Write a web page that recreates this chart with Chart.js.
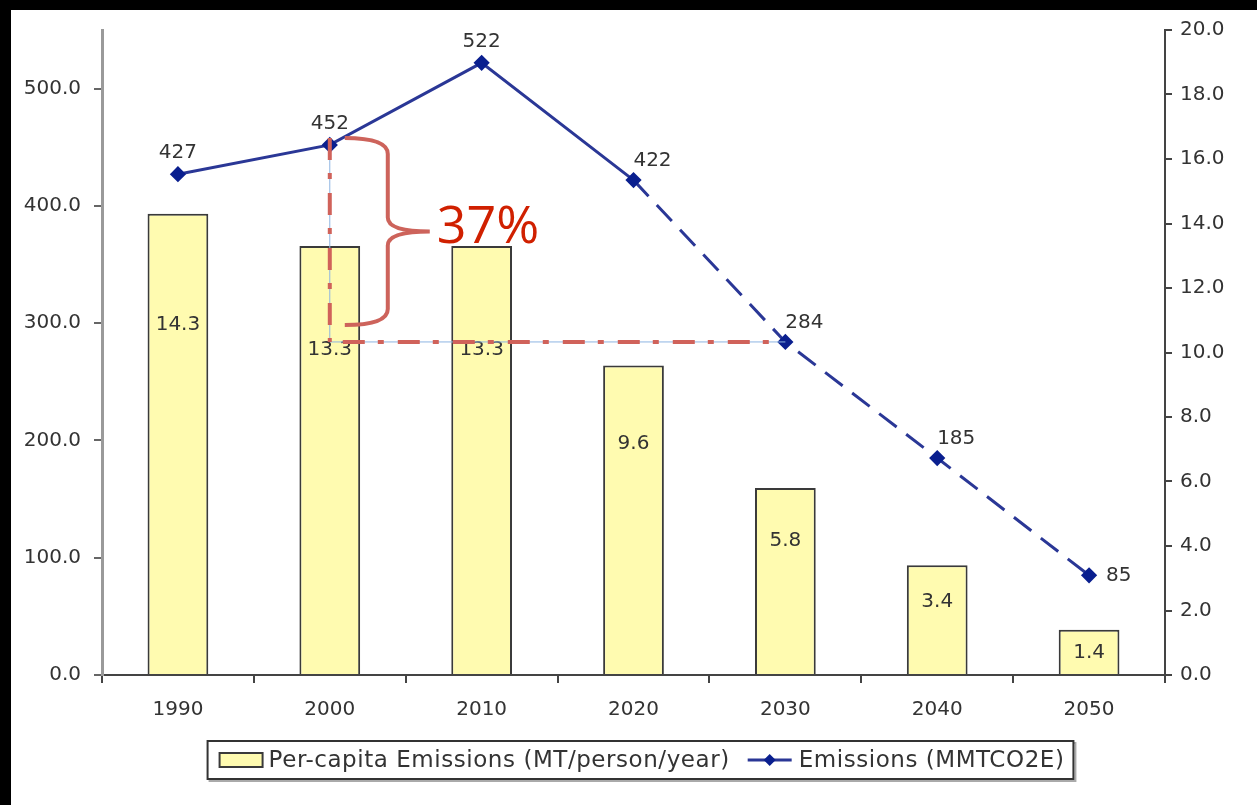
<!DOCTYPE html>
<html>
<head>
<meta charset="utf-8">
<title>Emisiones</title>
<script src="https://cdn.jsdelivr.net/npm/chart.js@4.4.1/dist/chart.umd.min.js"></script>
<style>
  html, body { margin: 0; padding: 0; background: #000; width: 1257px; height: 805px; overflow: hidden; }
  #marco { position: absolute; left: 11px; top: 10px; width: 1246px; height: 795px; background: #fff; }
</style>
</head>
<body>
<div id="marco"><canvas id="graficoEmisiones" width="1246" height="795"></canvas></div>
<script>
// Datos
const ANIOS = ['1990', '2000', '2010', '2020', '2030', '2040', '2050'];
const PER_CAPITA = [14.3, 13.3, 13.3, 9.6, 5.8, 3.4, 1.4];      // MT/persona/año (eje derecho)
const EMISIONES = [427, 452, 522, 422, 284, 185, 85];            // MMTCO2E (eje izquierdo)
const TICKS_IZQ = [0, 100, 200, 300, 400, 500];
const TICKS_DER = [0, 2, 4, 6, 8, 10, 12, 14, 16, 18, 20];
const ETIQUETA_BARRAS = 'Per-capita Emissions (MT/person/year)';
const ETIQUETA_LINEA = 'Emissions (MMTCO2E)';
const INICIO_PROYECCION = 3;   // desde 2020 la línea va punteada
const REF_ALTA = 1;            // 2000
const REF_BAJA = 4;            // 2030

const FUENTE = 'DejaVu Sans';
const GRIS_TEXTO = '#333';

// Valores sobre barras y puntos
const etiquetasValores = {
  id: 'etiquetasValores',
  afterDatasetsDraw(chart) {
    const ctx = chart.ctx;
    ctx.save();
    ctx.font = `20px "${FUENTE}"`;
    ctx.fillStyle = GRIS_TEXTO;
    ctx.textBaseline = 'middle';

    chart.getDatasetMeta(0).data.forEach((bar, i) => {
      const h = bar.base - bar.y;
      ctx.textAlign = 'center';
      ctx.fillText(PER_CAPITA[i].toFixed(1), bar.x, bar.y + 14 + 0.21 * h);
    });

    const puntos = chart.getDatasetMeta(1).data;
    puntos.forEach((p, i) => {
      const txt = String(EMISIONES[i]);
      if (i === puntos.length - 1) {
        ctx.textAlign = 'left';
        ctx.fillText(txt, p.x + 17, p.y);
      } else if (i > 0 && EMISIONES[i - 1] > EMISIONES[i]) {
        ctx.textAlign = 'center';
        ctx.fillText(txt, p.x + 19, p.y - 19);
      } else {
        ctx.textAlign = 'center';
        ctx.fillText(txt, p.x, p.y - 21);
      }
    });
    ctx.restore();
  }
};

// Guías rojas, llave y porcentaje de reducción 2000 -> 2030
const anotacionReduccion = {
  id: 'anotacionReduccion',
  afterDatasetsDraw(chart) {
    const { ctx, scales: { x, y } } = chart;
    const xa = x.getPixelForValue(REF_ALTA);
    const xb = x.getPixelForValue(REF_BAJA);
    const ya = y.getPixelForValue(EMISIONES[REF_ALTA]);
    const yb = y.getPixelForValue(EMISIONES[REF_BAJA]);
    ctx.save();

    ctx.strokeStyle = '#8db4e2';
    ctx.lineWidth = 1;
    ctx.beginPath();
    ctx.moveTo(xa, ya);
    ctx.lineTo(xa, yb);
    ctx.lineTo(xb, yb);
    ctx.stroke();

    ctx.strokeStyle = '#d0625a';
    ctx.lineWidth = 4;
    ctx.setLineDash([22, 13, 6, 14]);
    ctx.beginPath();
    ctx.moveTo(xa, ya - 7);
    ctx.lineTo(xa, yb);
    ctx.stroke();
    ctx.beginPath();
    ctx.moveTo(xa + 13, yb);
    ctx.lineTo(xb - 5, yb);
    ctx.stroke();

    // llave
    ctx.setLineDash([]);
    ctx.strokeStyle = '#cd635b';
    const arriba = ya - 7, abajo = yb - 17, medio = (arriba + abajo) / 2;
    const x0 = xa + 15, xv = xa + 58, xp = xa + 100;
    ctx.beginPath();
    ctx.moveTo(x0, arriba);
    ctx.quadraticCurveTo(xv, arriba, xv, arriba + 16);
    ctx.lineTo(xv, medio - 14);
    ctx.quadraticCurveTo(xv, medio, xp, medio);
    ctx.quadraticCurveTo(xv, medio, xv, medio + 14);
    ctx.lineTo(xv, abajo - 16);
    ctx.quadraticCurveTo(xv, abajo, x0, abajo);
    ctx.stroke();

    const pct = Math.round((EMISIONES[REF_ALTA] - EMISIONES[REF_BAJA]) / EMISIONES[REF_ALTA] * 100);
    ctx.fillStyle = '#d02000';
    ctx.font = '52px "Open Sans"';
    ctx.textAlign = 'left';
    ctx.textBaseline = 'alphabetic';
    ctx.fillText(pct + '%', xp + 7, medio + 12);
    ctx.restore();
  }
};

// Leyenda con caja
const leyendaCaja = {
  id: 'leyendaCaja',
  afterDraw(chart) {
    const ctx = chart.ctx;
    const area = chart.chartArea;
    ctx.save();
    ctx.font = `23px "${FUENTE}"`;
    ctx.letterSpacing = '0.55px';
    const w1 = ctx.measureText(ETIQUETA_BARRAS).width;
    const w2 = ctx.measureText(ETIQUETA_LINEA).width;
    const ancho = 139 + w1 + w2, alto = 38;
    const bx = (area.left + area.right) / 2 + 7 - ancho / 2;
    const by = area.bottom + 66;
    const cy = by + alto / 2;

    ctx.fillStyle = '#fff';
    ctx.strokeStyle = '#aaa';
    ctx.lineWidth = 2;
    ctx.strokeRect(bx + 2, by + 2, ancho, alto);
    ctx.fillRect(bx, by, ancho, alto);
    ctx.strokeStyle = '#333';
    ctx.strokeRect(bx, by, ancho, alto);

    let cx = bx + 12;
    ctx.fillStyle = '#fffbb0';
    ctx.fillRect(cx, cy - 7, 43, 14);
    ctx.strokeStyle = '#3a3a3a';
    ctx.strokeRect(cx, cy - 7, 43, 14);
    cx += 49;
    ctx.fillStyle = GRIS_TEXTO;
    ctx.textBaseline = 'middle';
    ctx.textAlign = 'left';
    ctx.fillText(ETIQUETA_BARRAS, cx, cy + 1);
    cx += w1 + 18;

    ctx.strokeStyle = '#2a3796';
    ctx.lineWidth = 3;
    ctx.beginPath();
    ctx.moveTo(cx, cy);
    ctx.lineTo(cx + 44, cy);
    ctx.stroke();
    ctx.fillStyle = '#0a1f8f';
    ctx.beginPath();
    ctx.moveTo(cx + 22, cy - 6);
    ctx.lineTo(cx + 28, cy);
    ctx.lineTo(cx + 22, cy + 6);
    ctx.lineTo(cx + 16, cy);
    ctx.closePath();
    ctx.fill();
    cx += 51;
    ctx.fillStyle = GRIS_TEXTO;
    ctx.fillText(ETIQUETA_LINEA, cx, cy + 1);
    ctx.restore();
  }
};

const fuenteEjes = { family: FUENTE, size: 20 };

// los ejes verticales no reservan margen extra para medio rótulo
function sinMargenVertical(s) {
  s.paddingTop = 0;
  s.paddingBottom = 0;
}

const ctx = document.getElementById('graficoEmisiones').getContext('2d');
const chartEmisiones = new Chart(ctx, {
  type: 'bar',
  data: {
    labels: ANIOS,
    datasets: [{
      type: 'bar',
      label: ETIQUETA_BARRAS,
      data: PER_CAPITA,
      yAxisID: 'y1',
      order: 1,
      backgroundColor: '#fffbb0',
      borderColor: '#3a3a3a',
      borderWidth: 2,
      categoryPercentage: 1,
      barPercentage: 0.4
    }, {
      type: 'line',
      label: ETIQUETA_LINEA,
      data: EMISIONES,
      yAxisID: 'y',
      order: 0,
      borderColor: '#2a3796',
      borderWidth: 3,
      tension: 0,
      pointStyle: 'rectRot',
      pointRadius: 6,
      pointBackgroundColor: '#0a1f8f',
      pointBorderColor: '#0a1f8f',
      segment: {
        borderDash: c => c.p0DataIndex >= INICIO_PROYECCION ? [22, 12] : undefined
      }
    }]
  },
  options: {
    responsive: false,
    animation: false,
    layout: { padding: { top: 20, left: 0, right: 0, bottom: 0 } },
    plugins: {
      legend: { display: false },
      tooltip: { enabled: false }
    },
    scales: {
      x: {
        grid: { offset: true, drawOnChartArea: false, tickLength: 8, color: '#444', lineWidth: 2 },
        border: { color: '#444', width: 2 },
        ticks: { font: fuenteEjes, color: GRIS_TEXTO, padding: 15 },
        afterFit(s) { s.height = 130; s.paddingLeft = 0; s.paddingRight = 0; }
      },
      y: {
        position: 'left',
        min: 0,
        max: 550,
        afterBuildTicks(s) { s.ticks = TICKS_IZQ.map(v => ({ value: v })); },
        ticks: { font: fuenteEjes, color: GRIS_TEXTO, padding: 13, callback: v => Number(v).toFixed(1) },
        grid: { drawOnChartArea: false, tickLength: 8, color: '#666', lineWidth: 2 },
        border: { color: '#9a9a9a', width: 3 },
        afterFit(s) { s.width = 91; sinMargenVertical(s); }
      },
      y1: {
        position: 'right',
        min: 0,
        max: 20,
        afterBuildTicks(s) { s.ticks = TICKS_DER.map(v => ({ value: v })); },
        ticks: { font: fuenteEjes, color: GRIS_TEXTO, padding: 8, callback: v => Number(v).toFixed(1) },
        grid: { drawOnChartArea: false, tickLength: 7, color: '#444', lineWidth: 2 },
        border: { color: '#444', width: 2 },
        afterFit(s) { s.width = 92; sinMargenVertical(s); }
      }
    }
  },
  plugins: [etiquetasValores, anotacionReduccion, leyendaCaja]
});
</script>
</body>
</html>
